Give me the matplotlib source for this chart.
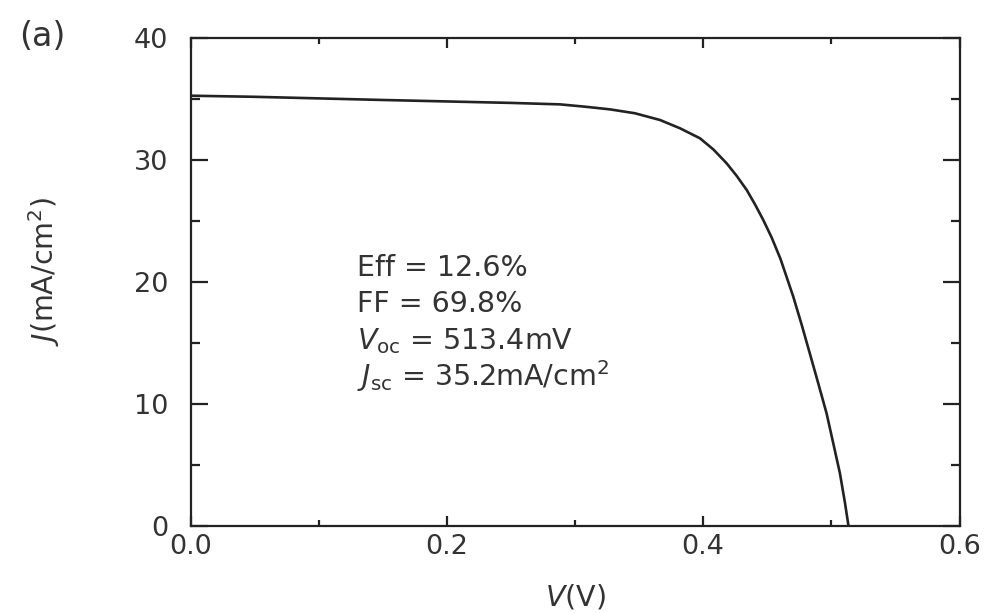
import matplotlib
matplotlib.use("Agg")
import matplotlib.pyplot as plt
from matplotlib.ticker import MultipleLocator

# J-V data
voltage = [0.0, 0.05, 0.10, 0.15, 0.20, 0.25, 0.2883, 0.3078, 0.3273, 0.3468,
           0.3663, 0.3819, 0.3975, 0.4079, 0.4183, 0.4262, 0.4340, 0.4404,
           0.4469, 0.4535, 0.4603, 0.4703, 0.4769, 0.4832, 0.4898, 0.4963,
           0.5015, 0.5067, 0.5107, 0.5134]
current = [35.27, 35.18, 35.05, 34.92, 34.80, 34.68, 34.56, 34.37, 34.15,
           33.83, 33.28, 32.60, 31.78, 30.87, 29.73, 28.69, 27.54, 26.37,
           25.08, 23.63, 21.90, 18.80, 16.48, 14.15, 11.69, 9.23, 6.78, 4.32,
           1.86, 0.0]

x_ticks = [0.0, 0.2, 0.4, 0.6]
x_tick_labels = ["0.0", "0.2", "0.4", "0.6"]
y_ticks = [0, 10, 20, 30, 40]
y_tick_labels = ["0", "10", "20", "30", "40"]

stats_lines = ["Eff = 12.6%", "FF = 69.8%", r"$V_{\rm oc}$ = 513.4mV",
               r"$J_{\rm sc}$ = 35.2mA/cm$^2$"]

plt.rcParams['font.family'] = ['DejaVu Sans']
plt.rcParams['mathtext.fontset'] = 'dejavusans'

W, H = 986, 613
fig = plt.figure(figsize=(W / 100, H / 100), dpi=100)
left, right, top, bottom = 190.5, 959.5, 38, 526
ax = fig.add_axes([left / W, 1 - bottom / H, (right - left) / W, (bottom - top) / H])

ink = "#222222"
text_col = "#333333"
ax.plot(voltage, current, color=ink, lw=1.9, solid_joinstyle='round')

ax.set_xlim(0, 0.6)
ax.set_ylim(0, 40)
ax.set_xticks(x_ticks)
ax.set_xticklabels(x_tick_labels)
ax.set_yticks(y_ticks)
ax.set_yticklabels(y_tick_labels)
ax.xaxis.set_minor_locator(MultipleLocator(0.1))
ax.yaxis.set_minor_locator(MultipleLocator(5))

for s in ax.spines.values():
    s.set_linewidth(1.6)
    s.set_color(ink)

ax.tick_params(axis='both', which='both', direction='in', top=True, right=True,
               color=ink, width=1.6, labelcolor=text_col, labelsize=19.5)
ax.tick_params(axis='x', which='major', length=7.5, pad=6)
ax.tick_params(axis='x', which='minor', length=4.5)
ax.tick_params(axis='y', which='major', length=12, pad=16)
ax.tick_params(axis='y', which='minor', length=6.5)

# statistics text block
y0 = 20.5
dy = 3.0
for i, line in enumerate(stats_lines):
    ax.text(0.1297, y0 - i * dy, line, fontsize=20.5, color=text_col,
            va='baseline', ha='left')

# axis labels
fig.text(575 / W, 1 - 597 / H, r"$V$(V)", fontsize=20.5, color=text_col,
         ha='center', va='center')
fig.text(44 / W, 1 - 272 / H, r"$J$(mA/cm$^2$)", fontsize=20.5, color=text_col,
         ha='center', va='center', rotation=90)
fig.text(42 / W, 1 - 36 / H, "(a)", fontsize=24, color=text_col,
         ha='center', va='center')

fig.savefig("out.png", dpi=100)
